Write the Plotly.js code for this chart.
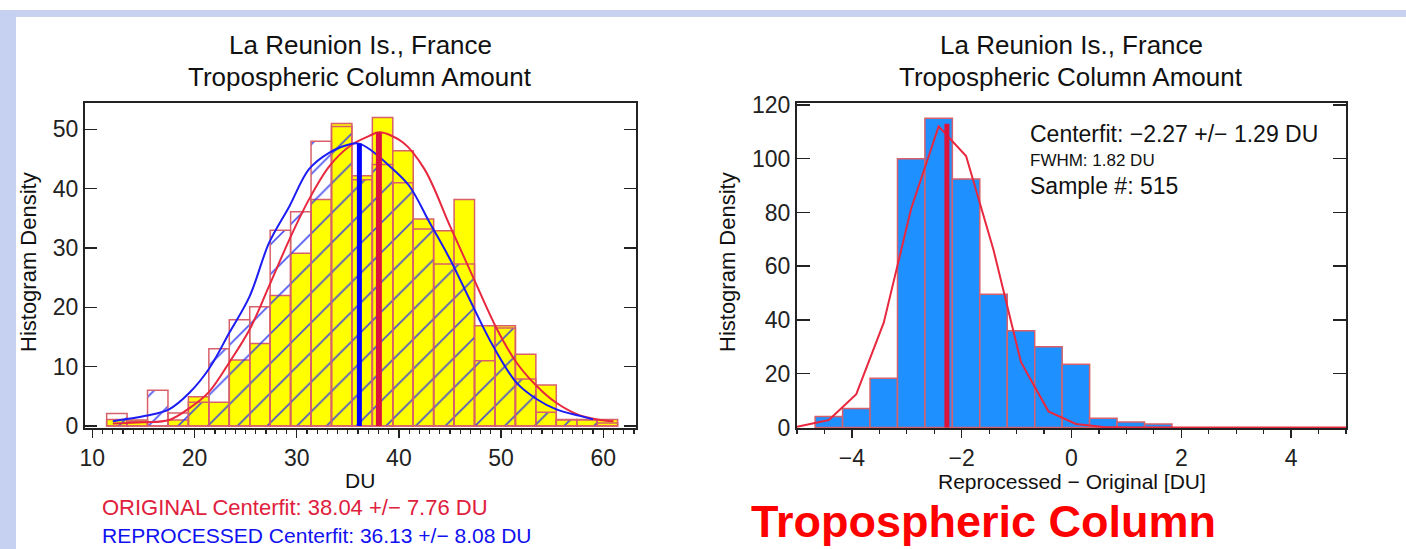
<!DOCTYPE html>
<html>
<head>
<meta charset="utf-8">
<script src="https://cdn.plot.ly/plotly-3.0.1.min.js"></script>
<style>
html,body{margin:0;padding:0;background:#fff;}
#chart{width:1406px;height:549px;}
</style>
</head>
<body>
<div id="chart"></div>
<script>
// ---------- Left panel: DU histograms ----------
const binCenters = [12.4,14.4,16.4,18.4,20.4,22.4,24.4,26.4,28.4,30.4,32.4,34.4,36.4,38.4,40.4,42.4,44.4,46.4,48.4,50.4,52.4,54.4,56.4,58.4,60.4];
const originalDensity = [1.1,1.0,0,1.0,4.9,4.0,11.1,13.9,22.0,29.1,38.2,51.0,42.2,52.0,46.4,34.9,32.9,38.2,16.9,16.9,12.1,6.9,1.1,1.1,1.1];
const reprocessedDensity = [2.1,0.8,6.0,2.2,4.0,13.0,17.9,20.1,33.0,36.1,48.0,50.5,41.5,44.1,41.0,33.2,27.3,27.3,11.0,16.5,7.9,2.3,1.0,1.0,0.5];

const originalFitX = [12.0,15.0,17.5,19.5,21.4,23.4,25.4,27.3,29.3,31.2,33.2,35.2,37.1,38.1,40.4,42.5,45.0,47.2,49.6,51.5,53.5,55.4,57.4,59.4,61.0];
const originalFitY = [0.4,0.6,1.0,3.0,5.7,10.7,16.3,23.6,31.5,38.2,43.8,47.2,48.9,49.5,47.8,43.3,33.7,25.3,16.3,10.7,6.7,3.9,2.0,1.1,0.8];
const reprocessedFitX = [12.0,15.2,17.5,19.5,21.4,23.4,25.4,27.3,29.3,31.2,33.2,35.2,36.1,37.1,39.1,41.0,43.0,45.0,46.9,49.2,51.5,53.5,55.4,57.7,59.0];
const reprocessedFitY = [0.8,1.7,2.8,5.6,9.6,15.7,21.9,30.9,37.1,43.3,46.1,47.5,47.6,46.7,43.8,40.5,34.3,28.1,21.4,13.5,7.3,4.5,2.8,1.7,1.1];

const originalCenter = 38.04, originalPeak = 49.5;
const reprocessedCenter = 36.13, reprocessedPeak = 47.6;

// ---------- Right panel: difference histogram ----------
const diffCenters = [-4.42,-3.92,-3.42,-2.92,-2.42,-1.92,-1.42,-0.92,-0.42,0.08,0.58,1.08,1.58];
const diffDensity = [4.1,7.1,18.3,100,115,92.4,49.6,36,30,23.5,3.4,2.0,1.3];
const diffFitX = [-5.0,-4.42,-3.92,-3.42,-2.92,-2.42,-1.92,-1.42,-0.92,-0.42,0.08,0.58,1.08,5.0];
const diffFitY = [0.3,2.8,12.4,39,81.5,112,101,66,24.3,6,1.3,0.2,0,0];
const diffCenter = -2.27, diffPeak = 113;

const leftTicks = [10,20,30,40,50,60];
const rightTicks = [-4,-2,0,2,4];
const rightTickText = ['\u22124','\u22122','0','2','4'];

const FONT = "Liberation Sans, Arial, Helvetica, sans-serif";
const outline = '#d8606a';

const traces = [
  {type:'bar', x:binCenters, y:originalDensity, width:2, xaxis:'x', yaxis:'y',
   marker:{color:'#ffff00', line:{color:outline, width:1.5}}, showlegend:false},
  {type:'bar', x:binCenters, y:reprocessedDensity, width:2, xaxis:'x', yaxis:'y',
   marker:{color:'rgba(0,0,0,0)', line:{color:outline, width:1.5},
     pattern:{shape:'/', fillmode:'replace', fgcolor:'rgba(45,55,240,0.85)', bgcolor:'rgba(0,0,0,0)', size:21, solidity:0.08}},
   showlegend:false},
  {type:'scatter', mode:'lines', x:originalFitX, y:originalFitY, xaxis:'x', yaxis:'y',
   line:{color:'#e8283f', width:2, shape:'spline'}, showlegend:false},
  {type:'scatter', mode:'lines', x:reprocessedFitX, y:reprocessedFitY, xaxis:'x', yaxis:'y',
   line:{color:'#1c1cf5', width:2, shape:'spline'}, showlegend:false},
  {type:'scatter', mode:'lines', x:[reprocessedCenter,reprocessedCenter], y:[0,reprocessedPeak], xaxis:'x', yaxis:'y',
   line:{color:'#0000ff', width:5}, showlegend:false},
  {type:'scatter', mode:'lines', x:[originalCenter,originalCenter], y:[0,originalPeak], xaxis:'x', yaxis:'y',
   line:{color:'#dc143c', width:6}, showlegend:false},

  {type:'bar', x:diffCenters, y:diffDensity, width:0.5, xaxis:'x2', yaxis:'y2',
   marker:{color:'#1e90ff', line:{color:outline, width:1.5}}, showlegend:false},
  {type:'scatter', mode:'lines', x:diffFitX, y:diffFitY, xaxis:'x2', yaxis:'y2',
   line:{color:'#e8283f', width:2}, showlegend:false},
  {type:'scatter', mode:'lines', x:[diffCenter,diffCenter], y:[0,diffPeak], xaxis:'x2', yaxis:'y2',
   line:{color:'#dc143c', width:5}, showlegend:false}
];

const W = 1406, H = 549;
const px = v => v / W;
const py = v => 1 - v / H;

const axBase = {showgrid:false, zeroline:false, showline:true, linecolor:'#222', linewidth:2,
  tickcolor:'#222', tickwidth:1.5, tickfont:{family:FONT, size:23, color:'#222'}, fixedrange:true};

function ann(text, x, y, size, color, extra) {
  return Object.assign({text:text, xref:'paper', yref:'paper', x:x, y:y, xanchor:'center', yanchor:'middle',
    showarrow:false, font:{family:FONT, size:size, color:color}}, extra || {});
}

const layout = {
  width:W, height:H, margin:{l:0,r:0,t:0,b:0},
  paper_bgcolor:'#ffffff', plot_bgcolor:'#ffffff',
  barmode:'overlay', font:{family:FONT, color:'#222'},
  xaxis:Object.assign({}, axBase, {domain:[px(85),px(636)], range:[9.28,63.2], anchor:'y',
    ticks:'outside', ticklen:8, tickvals:leftTicks, mirror:true,
    minor:{ticks:'outside', ticklen:4, dtick:1, tick0:0, tickcolor:'#222', tickwidth:1.2}}),
  xaxis3:Object.assign({}, axBase, {overlaying:'x', side:'top', anchor:'y', range:[9.28,63.2],
    ticks:'inside', ticklen:6, tickvals:leftTicks, showticklabels:false, showline:false}),
  yaxis:Object.assign({}, axBase, {domain:[py(428.3),py(103.3)], range:[-0.4,54.4], anchor:'x',
    ticks:'inside', ticklen:12, dtick:10, mirror:'ticks'}),
  xaxis2:Object.assign({}, axBase, {domain:[px(797),px(1346)], range:[-5,5], anchor:'y2',
    ticks:'outside', ticklen:8, tickvals:rightTicks, ticktext:rightTickText, mirror:true,
    minor:{ticks:'outside', ticklen:4, dtick:0.5, tick0:0, tickcolor:'#222', tickwidth:1.2}}),
  xaxis4:Object.assign({}, axBase, {overlaying:'x2', side:'top', anchor:'y2', range:[-5,5],
    ticks:'inside', ticklen:7, tickvals:rightTicks, showticklabels:false, showline:false}),
  yaxis2:Object.assign({}, axBase, {domain:[py(428.3),py(103.3)], range:[-0.3,120.6], anchor:'x2',
    ticks:'inside', ticklen:13, dtick:20, mirror:'ticks'}),
  shapes:[
    {type:'rect', xref:'paper', yref:'paper', x0:0, x1:1, y0:py(17), y1:py(10), fillcolor:'#c8d2f0', line:{width:0}, layer:'below'},
    {type:'rect', xref:'paper', yref:'paper', x0:0, x1:px(16), y0:0, y1:py(10), fillcolor:'#c6d0f0', line:{width:0}, layer:'below'}
  ],
  annotations:[
    ann('La Reunion Is., France', px(360), py(45), 26, '#111'),
    ann('Tropospheric Column Amount', px(360), py(77), 26, '#111'),
    ann('La Reunion Is., France', px(1071), py(45), 26, '#111'),
    ann('Tropospheric Column Amount', px(1071), py(77), 26, '#111'),
    ann('Histogram Density', px(28), py(262), 22, '#111', {textangle:-90}),
    ann('Histogram Density', px(727), py(262), 22, '#111', {textangle:-90}),
    ann('DU', px(360), py(480), 21, '#111'),
    ann('Reprocessed \u2212 Original [DU]', px(1072), py(481), 21, '#111'),
    ann('ORIGINAL Centerfit: 38.04 +/\u2212 7.76 DU', px(100), py(507), 22, '#e0203c', {xanchor:'left'}),
    ann('REPROCESSED Centerfit: 36.13 +/\u2212 8.08 DU', px(100), py(535), 21, '#1010f0', {xanchor:'left'}),
    ann('<b>Tropospheric Column</b>', px(983), py(521), 45, '#ff0000'),
    ann('Centerfit: \u22122.27 +/\u2212 1.29 DU', (1028-797)/549, py(134), 23, '#111', {xref:'x2 domain', xanchor:'left'}),
    ann('FWHM: 1.82 DU', (1028-797)/549, py(161), 17, '#111', {xref:'x2 domain', xanchor:'left'}),
    ann('Sample #: 515', (1028-797)/549, py(186), 23, '#111', {xref:'x2 domain', xanchor:'left'})
  ]
};

Plotly.newPlot('chart', traces, layout, {displayModeBar:false, staticPlot:true});
</script>
</body>
</html>
